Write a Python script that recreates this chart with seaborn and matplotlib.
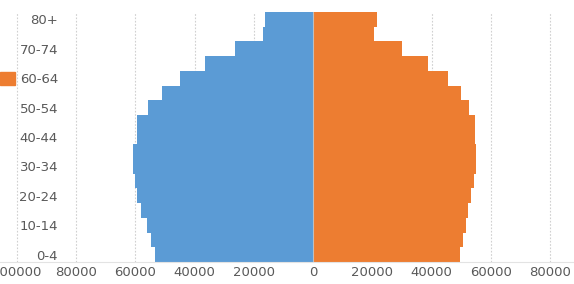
import matplotlib
matplotlib.use("Agg")
import matplotlib.pyplot as plt
from matplotlib.patches import Patch
import seaborn as sns
import pandas as pd

ages = ["0-4", "5-9", "10-14", "15-19", "20-24", "25-29", "30-34", "35-39",
        "40-44", "45-49", "50-54", "55-59", "60-64", "65-69", "70-74", "75-79", "80+"]
male = [53300, 54700, 56000, 58100, 59400, 60100, 60800, 60800,
        59400, 59400, 55700, 51000, 44900, 36500, 26300, 16900, 16200]
female = [49600, 50600, 51700, 52300, 53300, 54300, 55000, 55000,
          54700, 54700, 52700, 50000, 45600, 38800, 30000, 20600, 21600]
xticks = [-100000, -80000, -60000, -40000, -20000, 0, 20000, 40000, 60000, 80000]

blue = "#5B9BD5"
orange = "#ED7D31"
txt = "#595959"

sns.set_theme(style="white")
plt.rcParams["font.family"] = ["DejaVu Sans"]

df = pd.DataFrame({"age": ages, "male": [-v for v in male], "female": female})
order = ages[::-1]

W, H = 574, 284
fig = plt.figure(figsize=(W / 100, H / 100), dpi=100)
ax = fig.add_axes([0, 22 / H, 1, 250 / H])

sns.barplot(data=df, x="male", y="age", order=order, orient="h", color=blue,
            width=1.0, saturation=1, ax=ax, zorder=2, linewidth=0)
sns.barplot(data=df, x="female", y="age", order=order, orient="h", color=orange,
            width=1.0, saturation=1, ax=ax, zorder=2, linewidth=0)

scale = 2.9625 / 1000  # px per unit
ax.set_xlim(-313 / scale, (W - 313) / scale)
ax.set_ylim(len(ages) - 0.5, -0.5)

ax.set_xticks(xticks)
ax.set_xticklabels([str(abs(v)) for v in xticks])
for v in xticks:
    ax.axvline(v, color="#D0D0D0", lw=0.8, ls=(0, (1.5, 1.5)), zorder=1)
ax.axvline(0, color="#BFBFBF", lw=0.8, zorder=3)

ylabels = [a if i % 2 == 0 else "" for i, a in enumerate(order)]
ax.set_yticks(range(len(order)))
ax.set_yticklabels(ylabels)
ax.set_xlabel("")
ax.set_ylabel("")
ax.tick_params(axis="y", length=0, pad=-58 * 0.72, labelsize=9.5, labelcolor=txt)
ax.tick_params(axis="x", length=0, pad=3.0, labelsize=9.5, labelcolor=txt)
for lab in ax.get_yticklabels():
    lab.set_zorder(5)

for s in ["top", "left", "right"]:
    ax.spines[s].set_visible(False)
ax.spines["bottom"].set_color("#E3E3E3")
ax.spines["bottom"].set_linewidth(0.8)

fig.legend(handles=[Patch(color=orange)], labels=["Female"], markerfirst=False,
           loc="center right", bbox_to_anchor=(15 / W, 1 - 79 / H),
           frameon=False, handlelength=1.1, handleheight=1.1, borderpad=0,
           borderaxespad=0, handletextpad=0.4, fontsize=9.5)

fig.savefig("out.png", dpi=100)
